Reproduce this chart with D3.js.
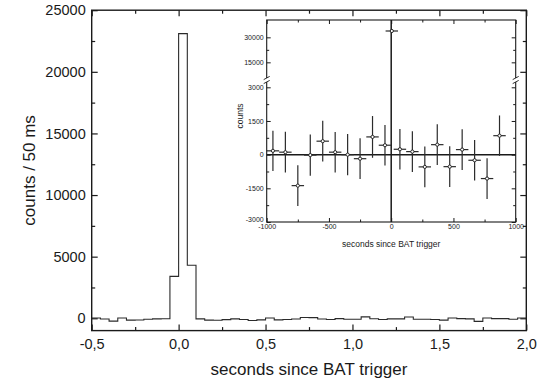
<!DOCTYPE html>
<html><head><meta charset="utf-8">
<script src="https://cdn.jsdelivr.net/npm/d3@7"></script>
<style>body{margin:0;background:#fff}svg{display:block}text{font-family:"Liberation Sans",Arial,sans-serif;fill:#1a1a1a}</style>
</head><body>
<svg id="c" width="544" height="383"></svg>
<script>
// ---- main histogram data (50 ms bins) ----
const binStart = [-0.5,-0.45,-0.4,-0.35,-0.3,-0.25,-0.2,-0.15,-0.1,-0.05,
  0.0,0.05,0.1,0.15,0.2,0.25,0.3,0.35,0.4,0.45,
  0.5,0.55,0.6,0.65,0.7,0.75,0.8,0.85,0.9,0.95,
  1.0,1.05,1.1,1.15,1.2,1.25,1.3,1.35,1.4,1.45,
  1.5,1.55,1.6,1.65,1.7,1.75,1.8,1.85,1.9,1.95];
const binCounts = [20,-60,-230,20,-150,-140,-80,-50,-40,3400,
  23100,4300,-50,-150,-160,-110,-50,-100,-180,-130,
  20,-130,-100,-60,60,50,-60,-100,-30,-80,
  -80,110,-40,-100,-50,-50,100,-80,-80,-100,
  -150,20,-30,-50,-250,20,-30,-30,-80,20];
const binWidth = 0.05;
const xTicksMajor = [-0.5,0.0,0.5,1.0,1.5,2.0];
const xTicksMinor = [-0.25,0.25,0.75,1.25,1.75];
const yTicksMajor = [0,5000,10000,15000,20000,25000];
const yTicksMinor = [2500,7500,12500,17500,22500];

// ---- inset data (100 s bins) ----
const insetTime   = [-950,-850,-750,-650,-550,-450,-350,-250,-150,-50,5,70,170,270,370,470,570,670,770,870];
const insetCounts = [170,110,-1380,-20,600,110,0,-180,790,420,33800,240,135,-545,445,-535,225,-250,-1065,845];
const insetErr    = [900,905,910,920,910,900,920,910,930,905,900,905,905,905,905,910,910,905,905,900];
const insetHalfBin = 50;
const insetXTicksMajor = [-1000,-500,0,500,1000];
const insetXTicksMinor = [-750,-250,250,750];
const insetYLowMajor = [-3000,-1500,0,1500,3000];
const insetYLowMinor = [-2250,-750,750,2250];
const insetYHighMajor = [15000,30000];
const insetYHighMinor = [22500];

const loc = d3.formatLocale({decimal:",",thousands:"",grouping:[3],currency:["",""],minus:"-"});
const fmt1 = loc.format(".1f");
const fmt0 = loc.format("d");

const svg = d3.select("#c");
const ink = "#1a1a1a";

// ---------- main plot ----------
const L=91.7,R=526.3,T=10.2,B=330.6;
const x = d3.scaleLinear([-0.5,2.0],[L,R]);
const y = d3.scaleLinear([-1000,25000],[B,T]);

function styleAxis(g){g.select(".domain").remove();g.selectAll("line").attr("stroke",ink).attr("stroke-width",1.2);g.attr("font-family",null).attr("font-size",null);}

svg.append("g").attr("transform",`translate(0,${B})`)
  .call(d3.axisBottom(x).tickValues(xTicksMajor).tickSize(-6).tickPadding(8).tickFormat(fmt1))
  .call(styleAxis).selectAll("text").style("font-size","14.5px");
svg.append("g").attr("transform",`translate(0,${B})`)
  .call(d3.axisBottom(x).tickValues(xTicksMinor).tickSize(-3.5).tickFormat("")).call(styleAxis);
svg.append("g").attr("transform",`translate(0,${T})`)
  .call(d3.axisTop(x).tickValues(xTicksMajor).tickSize(-6).tickFormat("")).call(styleAxis);
svg.append("g").attr("transform",`translate(0,${T})`)
  .call(d3.axisTop(x).tickValues(xTicksMinor).tickSize(-3.5).tickFormat("")).call(styleAxis);
svg.append("g").attr("transform",`translate(${L},0)`)
  .call(d3.axisLeft(y).tickValues(yTicksMajor).tickSize(-6).tickPadding(6).tickFormat(fmt0))
  .call(styleAxis).selectAll("text").style("font-size","14.5px");
svg.append("g").attr("transform",`translate(${L},0)`)
  .call(d3.axisLeft(y).tickValues(yTicksMinor).tickSize(-3.5).tickFormat("")).call(styleAxis);
svg.append("g").attr("transform",`translate(${R},0)`)
  .call(d3.axisRight(y).tickValues(yTicksMajor).tickSize(-6).tickFormat("")).call(styleAxis);
svg.append("g").attr("transform",`translate(${R},0)`)
  .call(d3.axisRight(y).tickValues(yTicksMinor).tickSize(-3.5).tickFormat("")).call(styleAxis);

// histogram step line
const stepPts = binStart.map((s,i)=>[s,binCounts[i]]);
stepPts.push([binStart[binStart.length-1]+binWidth, binCounts[binCounts.length-1]]);
svg.append("path").datum(stepPts)
  .attr("d", d3.line().x(d=>x(d[0])).y(d=>y(d[1])).curve(d3.curveStepAfter))
  .attr("fill","none").attr("stroke","#2a2a2a").attr("stroke-width",1.1);

svg.append("rect").attr("x",L).attr("y",T).attr("width",R-L).attr("height",B-T)
  .attr("fill","none").attr("stroke",ink).attr("stroke-width",1.4);

svg.append("text").attr("x",(L+R)/2).attr("y",375).attr("text-anchor","middle")
  .style("font-size","17px").text("seconds since BAT trigger");
svg.append("text").attr("transform",`translate(35,${(T+B)/2}) rotate(-90)`).attr("text-anchor","middle")
  .style("font-size","17px").text("counts / 50 ms");

// ---------- inset ----------
const iL=266.7,iR=515.7,iT=20,iB=222, brkTop=78, brkBot=82;
const ix = d3.scaleLinear([-1000,1000],[iL,iR]);
const iyL = d3.scaleLinear([-3000,3236],[iB,brkBot]);
const iyU = d3.scaleLinear([5600,40400],[brkTop,iT]);
const iy = v => v > 4000 ? iyU(v) : iyL(v);

const inset = svg.append("g");
inset.append("rect").attr("x",iL).attr("y",iT).attr("width",iR-iL).attr("height",iB-iT).attr("fill","#fff");

function styleI(g){g.select(".domain").remove();g.selectAll("line").attr("stroke",ink).attr("stroke-width",1);g.attr("font-family",null).attr("font-size",null);}
inset.append("g").attr("transform",`translate(0,${iB})`)
  .call(d3.axisBottom(ix).tickValues(insetXTicksMajor).tickSize(-4).tickPadding(2).tickFormat(fmt0))
  .call(styleI).selectAll("text").style("font-size","7px").attr("fill","#333");
inset.append("g").attr("transform",`translate(0,${iB})`)
  .call(d3.axisBottom(ix).tickValues(insetXTicksMinor).tickSize(-2.5).tickFormat("")).call(styleI);
inset.append("g").attr("transform",`translate(0,${iT})`)
  .call(d3.axisTop(ix).tickValues(insetXTicksMajor).tickSize(-4).tickFormat("")).call(styleI);
inset.append("g").attr("transform",`translate(0,${iT})`)
  .call(d3.axisTop(ix).tickValues(insetXTicksMinor).tickSize(-2.5).tickFormat("")).call(styleI);
[[iyL,insetYLowMajor,insetYLowMinor],[iyU,insetYHighMajor,insetYHighMinor]].forEach(([sc,maj,mn])=>{
  const g = inset.append("g").attr("transform",`translate(${iL},0)`)
    .call(d3.axisLeft(sc).tickValues(maj).tickSize(-4).tickPadding(3).tickFormat(fmt0))
    .call(styleI);
  g.selectAll("text").style("font-size","7px").attr("fill","#333")
    .attr("dy", d => d === -3000 ? "-0.05em" : "0.32em");
  inset.append("g").attr("transform",`translate(${iL},0)`)
    .call(d3.axisLeft(sc).tickValues(mn).tickSize(-2.5).tickFormat("")).call(styleI);
  inset.append("g").attr("transform",`translate(${iR},0)`)
    .call(d3.axisRight(sc).tickValues(maj).tickSize(-4).tickFormat("")).call(styleI);
  inset.append("g").attr("transform",`translate(${iR},0)`)
    .call(d3.axisRight(sc).tickValues(mn).tickSize(-2.5).tickFormat("")).call(styleI);
});

// reference lines
inset.append("line").attr("x1",iL).attr("x2",iR).attr("y1",iyL(0)).attr("y2",iyL(0)).attr("stroke",ink).attr("stroke-width",1.5);
inset.append("line").attr("x1",ix(0)).attr("x2",ix(0)).attr("y1",iT).attr("y2",iB).attr("stroke",ink).attr("stroke-width",1.5);

// error bars + points
const pts = insetTime.map((t,i)=>({t,c:insetCounts[i],e:insetErr[i]}));
const eb = inset.append("g").attr("stroke","#2b2b2b").attr("stroke-width",1.2);
eb.selectAll(".v").data(pts).join("line").attr("x1",d=>ix(d.t)).attr("x2",d=>ix(d.t))
  .attr("y1",d=>iy(d.c+d.e)).attr("y2",d=>iy(d.c-d.e));
eb.selectAll(".h").data(pts).join("line").attr("x1",d=>ix(d.t-insetHalfBin)).attr("x2",d=>ix(d.t+insetHalfBin))
  .attr("y1",d=>iy(d.c)).attr("y2",d=>iy(d.c));
inset.selectAll("circle").data(pts).join("circle").attr("cx",d=>ix(d.t)).attr("cy",d=>iy(d.c)).attr("r",1.6)
  .attr("fill","#fff").attr("stroke",ink).attr("stroke-width",0.9);

// frame with axis break
inset.append("rect").attr("x",iL).attr("y",iT).attr("width",iR-iL).attr("height",iB-iT)
  .attr("fill","none").attr("stroke",ink).attr("stroke-width",1.1);
[iL,iR].forEach(xx=>{
  inset.append("rect").attr("x",xx-2).attr("y",brkTop).attr("width",4).attr("height",brkBot-brkTop).attr("fill","#fff");
  [brkTop,brkBot].forEach(yy=>{
    inset.append("line").attr("x1",xx-3).attr("x2",xx+3).attr("y1",yy+1.6).attr("y2",yy-1.6)
      .attr("stroke",ink).attr("stroke-width",0.9);
  });
});

inset.append("text").attr("x",(iL+iR)/2).attr("y",247).attr("text-anchor","middle")
  .style("font-size","8.5px").attr("fill","#333").text("seconds since BAT trigger");
inset.append("text").attr("transform",`translate(242.5,116) rotate(-90)`).attr("text-anchor","middle")
  .style("font-size","8.5px").attr("fill","#333").text("counts");
</script>
</body></html>
